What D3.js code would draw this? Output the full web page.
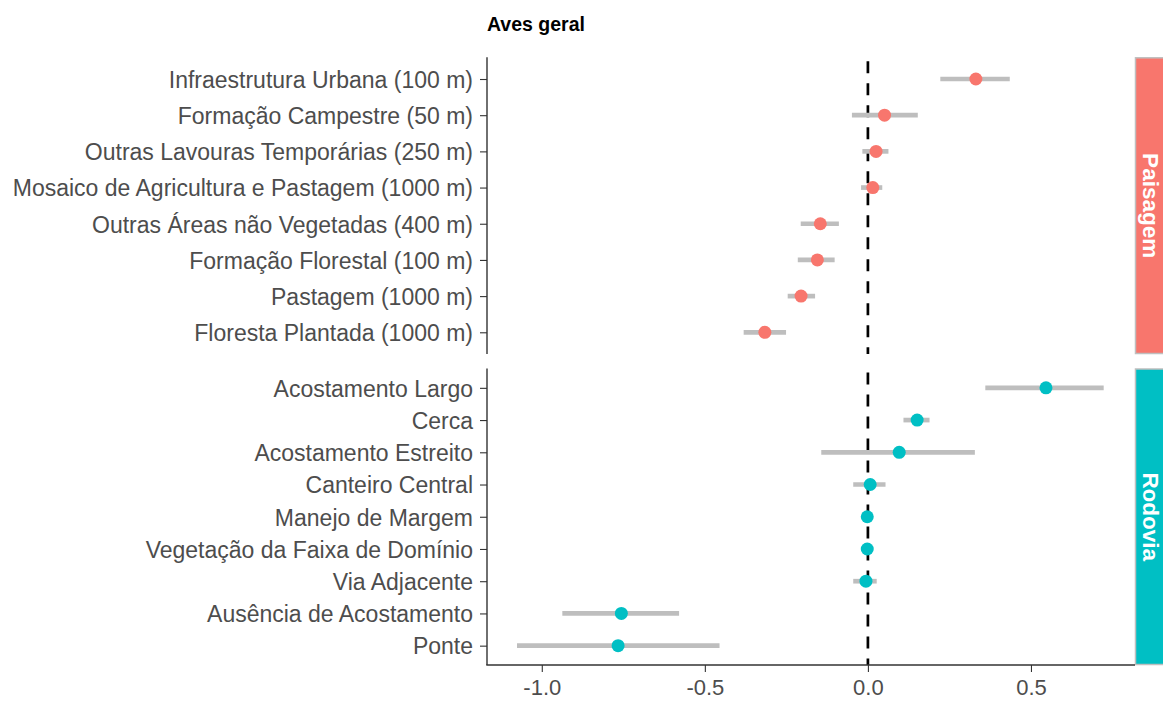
<!DOCTYPE html>
<html>
<head>
<meta charset="utf-8">
<script src="https://cdn.jsdelivr.net/npm/d3@7/dist/d3.min.js"></script>
<style>
  body { margin: 0; background: #fff; }
  text { font-family: "Liberation Sans", Arial, sans-serif; }
</style>
</head>
<body>
<div id="chart"></div>
<script>
  const w = 1163;
  const h = 702;

  // Paisagem facet
  const paisagemLabels = [
    'Infraestrutura Urbana (100 m)',
    'Formação Campestre (50 m)',
    'Outras Lavouras Temporárias (250 m)',
    'Mosaico de Agricultura e Pastagem (1000 m)',
    'Outras Áreas não Vegetadas (400 m)',
    'Formação Florestal (100 m)',
    'Pastagem (1000 m)',
    'Floresta Plantada (1000 m)'
  ];
  const paisagemEst = [0.331, 0.051, 0.025, 0.015, -0.146, -0.155, -0.205, -0.316];
  const paisagemLow = [0.222, -0.049, -0.017, -0.021, -0.206, -0.215, -0.246, -0.381];
  const paisagemHigh = [0.435, 0.153, 0.063, 0.044, -0.089, -0.102, -0.162, -0.251];

  // Rodovia facet
  const rodoviaLabels = [
    'Acostamento Largo',
    'Cerca',
    'Acostamento Estreito',
    'Canteiro Central',
    'Manejo de Margem',
    'Vegetação da Faixa de Domínio',
    'Via Adjacente',
    'Ausência de Acostamento',
    'Ponte'
  ];
  const rodoviaEst = [0.546, 0.151, 0.096, 0.007, -0.002, -0.002, -0.006, -0.756, -0.766];
  const rodoviaLow = [0.360, 0.109, -0.143, -0.045, -0.010, -0.012, -0.045, -0.937, -1.076];
  const rodoviaHigh = [0.723, 0.189, 0.328, 0.054, 0.008, 0.008, 0.027, -0.579, -0.455];

  const xTicks = [-1.0, -0.5, 0.0, 0.5];
  const xDomain = [-1.168, 0.819];

  const facets = [
    { name: 'Paisagem', color: '#F8766D', labels: paisagemLabels, est: paisagemEst, low: paisagemLow, high: paisagemHigh, top: 57.3, bottom: 354 },
    { name: 'Rodovia', color: '#00BFC4', labels: rodoviaLabels, est: rodoviaEst, low: rodoviaLow, high: rodoviaHigh, top: 368.5, bottom: 665 }
  ];

  const panelLeft = 487;
  const panelRight = 1135;
  const stripWidth = 40;

  const x = d3.scaleLinear().domain(xDomain).range([panelLeft, panelRight]);

  const svg = d3.select('#chart')
    .append('svg')
      .attr('width', w)
      .attr('height', h);

  // title
  svg.append('text')
      .attr('x', panelLeft)
      .attr('y', 31)
      .style('font-size', '19.5px')
      .style('font-weight', 'bold')
      .style('fill', '#000')
      .text('Aves geral');

  facets.forEach(f => {
    const y = d3.scalePoint()
      .domain(f.labels)
      .range([f.top, f.bottom])
      .padding(0.6);

    const rows = f.labels.map((l, i) => ({ label: l, est: f.est[i], low: f.low[i], high: f.high[i] }));

    const g = svg.append('g');

    // y axis
    const yAxis = g.append('g')
        .attr('transform', 'translate(' + panelLeft + ',0)')
        .call(d3.axisLeft(y).tickSize(7).tickPadding(7));
    yAxis.select('.domain').remove();
    yAxis.selectAll('line').attr('stroke', '#333').attr('stroke-width', 1.1);
    yAxis.selectAll('text')
        .style('font-size', '23px')
        .style('fill', '#4D4D4D')
        .attr('dy', '0.36em');

    g.append('line')
        .attr('x1', panelLeft).attr('x2', panelLeft)
        .attr('y1', f.top).attr('y2', f.bottom)
        .attr('stroke', '#333')
        .attr('stroke-width', 1.4);

    // zero reference
    g.append('line')
        .attr('x1', x(0)).attr('x2', x(0))
        .attr('y1', f.top).attr('y2', f.bottom)
        .attr('stroke', '#000')
        .attr('stroke-width', 2.7)
        .attr('stroke-dasharray', '12,10')
        .attr('stroke-dashoffset', -4);

    // error bars
    g.selectAll('.ci')
      .data(rows)
      .enter().append('line')
        .attr('class', 'ci')
        .attr('x1', d => x(d.low))
        .attr('x2', d => x(d.high))
        .attr('y1', d => y(d.label))
        .attr('y2', d => y(d.label))
        .attr('stroke', '#BEBEBE')
        .attr('stroke-width', 4.7);

    // points
    g.selectAll('.pt')
      .data(rows)
      .enter().append('circle')
        .attr('class', 'pt')
        .attr('cx', d => x(d.est))
        .attr('cy', d => y(d.label))
        .attr('r', 6.5)
        .attr('fill', f.color);

    // strip
    g.append('rect')
        .attr('x', panelRight + 0.5)
        .attr('y', f.top + 0.5)
        .attr('width', stripWidth)
        .attr('height', f.bottom - f.top - 1)
        .attr('fill', f.color)
        .attr('stroke', '#BFBFBF')
        .attr('stroke-width', 1.5);

    g.append('text')
        .attr('transform', 'translate(' + 1143 + ',' + ((f.top + f.bottom) / 2) + ') rotate(90)')
        .attr('text-anchor', 'middle')
        .style('font-size', '22.5px')
        .style('font-weight', 'bold')
        .style('fill', '#fff')
        .text(f.name);
  });

  // x axis
  const xAxis = svg.append('g')
      .attr('transform', 'translate(0,665)')
      .call(d3.axisBottom(x).tickValues(xTicks).tickFormat(d => d.toFixed(1)).tickSize(7).tickPadding(7));
  xAxis.select('.domain').remove();
  xAxis.selectAll('line').attr('stroke', '#333').attr('stroke-width', 1.1);
  xAxis.selectAll('text')
      .style('font-size', '22px')
      .style('fill', '#4D4D4D');

  svg.append('line')
      .attr('x1', panelLeft - 0.7).attr('x2', panelRight)
      .attr('y1', 665).attr('y2', 665)
      .attr('stroke', '#333')
      .attr('stroke-width', 1.4);
</script>
</body>
</html>
